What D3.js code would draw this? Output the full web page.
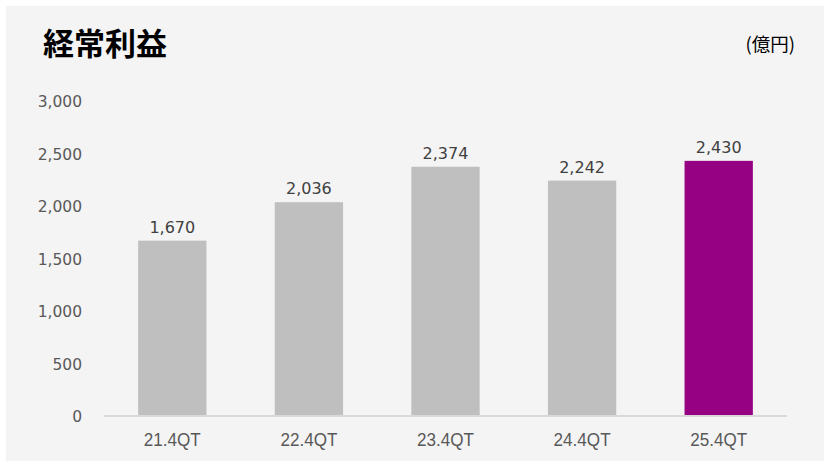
<!DOCTYPE html>
<html><head><meta charset="utf-8">
<script src="https://cdn.jsdelivr.net/npm/d3@7"></script>
<style>html,body{margin:0;padding:0;background:#fff;}</style>
</head><body>
<svg id="c" width="824" height="461"></svg>
<script>
const categories = ["21.4QT","22.4QT","23.4QT","24.4QT","25.4QT"];
const values = [1670, 2036, 2374, 2242, 2430];
const tickValues = [0, 500, 1000, 1500, 2000, 2500, 3000];
const barColors = ["#bfbfbf","#bfbfbf","#bfbfbf","#bfbfbf","#960082"];
const title = "経常利益";
const unit = "(億円)";

const svg = d3.select("#c");
svg.append("rect").attr("x",6).attr("y",6).attr("width",818).attr("height",455).attr("fill","#f4f4f4");

const x = d3.scaleBand().domain(categories).range([104,787]).paddingInner(0.5).paddingOuter(0.25);
const y = d3.scaleLinear().domain([0,3000]).range([416,101]);

const numFont = "'DejaVu Sans', Verdana, sans-serif";

// y axis
const yAxis = d3.axisLeft(y).tickValues(tickValues).tickFormat(d3.format(",")).tickSize(0).tickPadding(0);
const ga = svg.append("g").attr("transform","translate(82,0)").call(yAxis);
ga.select(".domain").remove();
ga.selectAll("text").style("font-family",numFont).style("font-size","15.5px").attr("fill","#595959").attr("dy","0.36em");

// bars
svg.append("g").selectAll("rect").data(values).join("rect")
  .attr("x",(d,i)=>x(categories[i])).attr("width",x.bandwidth())
  .attr("y",d=>y(d)).attr("height",d=>y(0)-y(d))
  .attr("fill",(d,i)=>barColors[i]);

// baseline axis
const xAxis = d3.axisBottom(x).tickSize(0).tickPadding(0);
const gx = svg.append("g").attr("transform","translate(0,416)").call(xAxis);
gx.select(".domain").attr("stroke","#d9d9d9").attr("stroke-width",2).attr("d","M104,0H787");
gx.selectAll("text").style("font-family","'Liberation Sans', Arial, sans-serif").style("font-size","18px")
  .attr("fill","#595959").attr("y",30).attr("dy",0)
  .attr("textLength",57).attr("lengthAdjust","spacingAndGlyphs");

// value labels
svg.append("g").selectAll("text").data(values).join("text")
  .attr("x",(d,i)=>x(categories[i])+x.bandwidth()/2).attr("y",d=>y(d)-8)
  .attr("text-anchor","middle").style("font-family",numFont).style("font-size","16px").attr("fill","#404040")
  .text(d=>d3.format(",")(d));

// title
svg.append("text").attr("x",43).attr("y",55).style("font-family","'Noto Sans CJK JP', sans-serif")
  .style("font-weight","bold").style("font-size","31px").attr("fill","#000").text(title);
svg.append("text").attr("x",795).attr("y",51).attr("text-anchor","end")
  .style("font-family","'Noto Sans CJK JP', sans-serif").style("font-size","18.5px").attr("fill","#000").text(unit);
</script>
</body></html>
